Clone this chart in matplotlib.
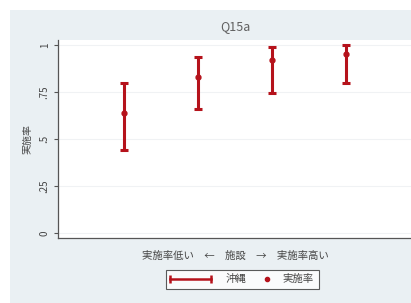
import matplotlib.pyplot as plt
from matplotlib.patches import Rectangle
from matplotlib.lines import Line2D
from matplotlib.legend_handler import HandlerBase

plt.rcParams['font.family'] = ['Noto Sans CJK JP', 'DejaVu Sans']

# facility index, ordered low -> high
facility = [1, 2, 3, 4]
rate = [0.64, 0.83, 0.92, 0.955]
ci_low = [0.445, 0.66, 0.745, 0.80]
ci_high = [0.80, 0.935, 0.99, 1.0]

yticks = [0, 0.25, 0.5, 0.75, 1]
ytick_labels = ['0', '.25', '.5', '.75', '1']

red = '#b5121b'
txt = '#444444'


class CapLineHandler(HandlerBase):
    """horizontal line with caps at both ends (stata-like rcap key)"""
    def create_artists(self, legend, orig_handle, xdescent, ydescent,
                       width, height, fontsize, trans):
        y = height / 2 - ydescent
        x0, x1 = -xdescent, width - xdescent - 2
        line = Line2D([x0, x1], [y, y], color=red, lw=1.8, transform=trans)
        caps = Line2D([x0, x1], [y, y], ls='none', marker='|', markersize=6,
                      mew=1.8, color=red, transform=trans)
        return [line, caps]


class DotHandler(HandlerBase):
    """single dot pushed to the right end of the key"""
    def create_artists(self, legend, orig_handle, xdescent, ydescent,
                       width, height, fontsize, trans):
        y = height / 2 - ydescent
        x = width - xdescent - 3
        dot = Line2D([x], [y], ls='none', marker='o', markersize=3,
                     color=red, transform=trans)
        return [dot]


fig = plt.figure(figsize=(4.11, 3.03), dpi=100)
fig.patch.set_facecolor('white')
# stata-ish graph region
fig.patches.append(Rectangle((10 / 411, 0), 1, 1 - 10 / 303, transform=fig.transFigure,
                             facecolor='#eaf0f3', edgecolor='none', zorder=-1))

ax = fig.add_axes([58 / 411, 1 - 238 / 303, 354 / 411, 198 / 303])
ax.set_facecolor('white')

lo = [r - l for r, l in zip(rate, ci_low)]
hi = [h - r for r, h in zip(rate, ci_high)]
ax.errorbar(facility, rate, yerr=[lo, hi], fmt='none', ecolor=red,
            elinewidth=2.2, capsize=3, capthick=2.2)
ax.plot(facility, rate, 'o', color=red, markersize=3.5)

ax.set_xlim(0.1, 4.9)
ax.set_ylim(-0.025, 1.027)
ax.set_xticks([])
ax.set_yticks(yticks)
ax.set_yticklabels(ytick_labels, rotation=90, va='center', fontsize=7, color=txt)
ax.tick_params(axis='y', length=3, color='#555555', pad=3)
ax.grid(axis='y', color='#f0f2f4', linewidth=0.8)
ax.set_axisbelow(True)
for s in ['top', 'right']:
    ax.spines[s].set_visible(False)
for s in ['left', 'bottom']:
    ax.spines[s].set_color('#555555')
    ax.spines[s].set_linewidth(0.9)

ax.set_title('Q15a', fontsize=9, color='#606060', pad=7)
ax.set_ylabel('実施率', fontsize=7.2, color=txt, labelpad=5)
ax.set_xlabel('実施率低い\u3000←\u3000施設\u3000→\u3000実施率高い', fontsize=7.5,
              color=txt, labelpad=9)

h_ci = object()
h_dot = object()
leg = ax.legend([h_ci, h_dot], ['沖縄', '実施率'],
                handler_map={h_ci: CapLineHandler(), h_dot: DotHandler()},
                loc='upper center', bbox_to_anchor=(0.52, -0.16), ncol=2, fontsize=7.5,
                frameon=True, fancybox=False, edgecolor='#333333', handlelength=4.2,
                columnspacing=-1.8, handletextpad=1.1, borderpad=0.45, borderaxespad=0)
leg.get_frame().set_linewidth(0.8)
for t in leg.get_texts():
    t.set_color(txt)

fig.savefig('out.png', dpi=100, facecolor=fig.get_facecolor())
